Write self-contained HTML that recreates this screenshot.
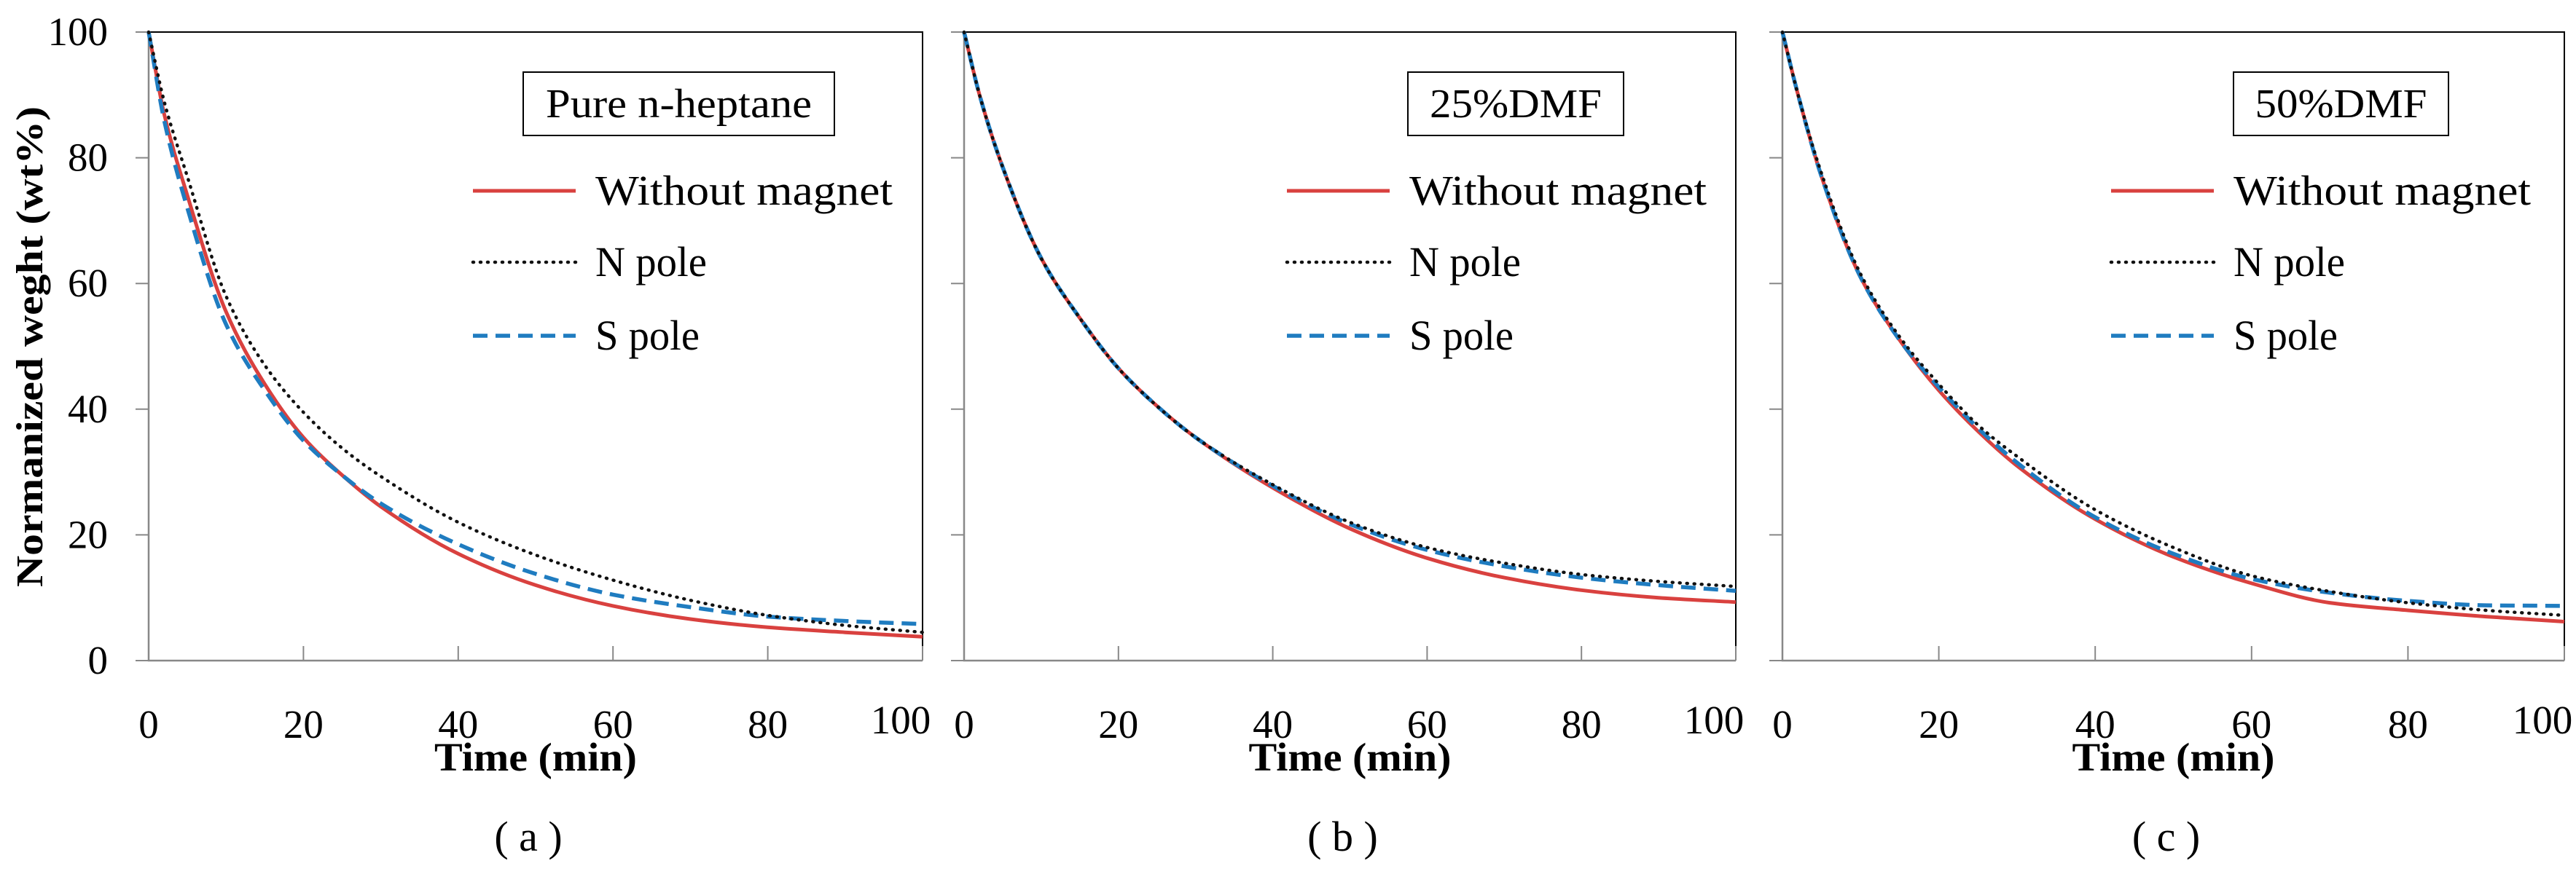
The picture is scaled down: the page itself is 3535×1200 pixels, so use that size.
<!DOCTYPE html>
<html><head><meta charset="utf-8"><style>
html,body{margin:0;padding:0;background:#fff}
svg{display:block}
svg text{font-family:"Liberation Serif","Times New Roman",serif;fill:#000}
</style></head><body>
<svg id="fig" width="3535" height="1200" viewBox="0 0 3535 1200" font-family="Liberation Serif, serif">
<text font-family="Liberation Serif, serif" transform="translate(58,476) rotate(-90)" text-anchor="middle" font-size="52" font-weight="bold" textLength="660" lengthAdjust="spacingAndGlyphs">Normanized  weght (wt%)</text>
</svg>
<script>
const xTicks=[0,20,40,60,80,100];
const yTicks=[0,20,40,60,80,100];
const timeA=[0,2,5,10,15,20,25,30,40,50,60,70,80,90,100];
const redA=[100,87,74,55.5,44,35.5,29.5,24.5,17,12,8.7,6.6,5.3,4.5,3.8];
const blackA=[100,89,77,58,47,39.5,33.8,29.3,22,16.8,12.8,9.6,7.2,5.6,4.5];
const blueA=[100,86,72,53.5,43,35,29.5,25,18.5,13.8,10.5,8.5,7,6.3,5.8];
const redB=[100,90,78.5,64,54.5,46.5,40.5,35.5,27.5,21,16.3,13.2,11.2,10,9.3];
const blackB=[100,90,78.5,64,54.5,46.5,40.5,35.5,28,22,18,15.5,13.7,12.6,11.8];
const blueB=[100,90,78.5,64,54.5,46.5,40.5,35.5,27.8,21.7,17.6,15,13.2,12,11.1];
const redC=[100,90,77,61,51,43,36.5,31,22.5,16.5,12.3,9.2,8,7,6.2];
const blackC=[100,90,77.5,61.5,51.5,44,37.5,32.5,24,18,13.5,11,9.2,8,7.2];
const blueC=[100,90,77,61,51,43.5,37,31.5,22.8,17,13,10.8,9.5,8.8,8.7];
const panels=[
 {id:'a',x0:204,x1:1266,red:redA,black:blackA,blue:blueA,title:'Pure n-heptane',tw:365,box:[718,99,427,87],leg:649},
 {id:'b',x0:1323,x1:2382,red:redB,black:blackB,blue:blueB,title:'25%DMF',tw:236,box:[1932,99,296,87],leg:1766},
 {id:'c',x0:2446,x1:3519,red:redC,black:blackC,blue:blueC,title:'50%DMF',tw:236,box:[3065,99,295,87],leg:2897}
];
const NS='http://www.w3.org/2000/svg';
const svg=document.getElementById('fig');
const Y0=907,Y1=44;
const FF='Liberation Serif, serif';
function mk(tag,attrs,parent,txt){const e=document.createElementNS(NS,tag);for(const k in attrs)e.setAttribute(k,attrs[k]);if(tag==='text')e.setAttribute('font-family',FF);if(txt!==undefined)e.textContent=txt;(parent||svg).appendChild(e);return e;}
function path(pts){
 const n=pts.length,dx=[],m=[],t=new Array(n);
 for(let i=0;i<n-1;i++){dx[i]=pts[i+1][0]-pts[i][0];m[i]=(pts[i+1][1]-pts[i][1])/dx[i];}
 t[0]=m[0];t[n-1]=m[n-2];
 for(let i=1;i<n-1;i++){if(m[i-1]*m[i]<=0)t[i]=0;else{const w1=2*dx[i]+dx[i-1],w2=dx[i]+2*dx[i-1];t[i]=(w1+w2)/(w1/m[i-1]+w2/m[i]);}}
 let d='M'+pts[0][0].toFixed(1)+','+pts[0][1].toFixed(1);
 for(let i=0;i<n-1;i++){const h=dx[i]/3;d+=' C'+(pts[i][0]+h).toFixed(1)+','+(pts[i][1]+t[i]*h).toFixed(1)+' '+(pts[i+1][0]-h).toFixed(1)+','+(pts[i+1][1]-t[i+1]*h).toFixed(1)+' '+pts[i+1][0].toFixed(1)+','+pts[i+1][1].toFixed(1);}
 return d;}
const styles={red:{stroke:'#d9413f','stroke-width':5,fill:'none'},black:{stroke:'#111','stroke-width':4.5,fill:'none','stroke-dasharray':'1 9','stroke-linecap':'round'},blue:{stroke:'#1f7cc0','stroke-width':5.5,fill:'none','stroke-dasharray':'20 11'}};
const names={red:'Without  magnet',black:'N pole',blue:'S pole'};
const nameW={red:408,black:153,blue:143};
panels.forEach(p=>{
 const g=mk('g',{});
 
 
 const sx=v=>p.x0+(p.x1-p.x0)*v/100, sy=v=>Y0+(Y1-Y0)*v/100;
 const fr=mk('path',{d:`M${p.x0},${Y1} H${p.x1} V${Y0}`,stroke:'#000','stroke-width':2,fill:'none'},g);
 
 
 const ax=mk('path',{d:`M${p.x0},${Y1} V${Y0} H${p.x1}`,stroke:'#888','stroke-width':2.5,fill:'none'},g);
 
 
 yTicks.forEach(v=>{
  const t=mk('line',{x1:p.x0-18,x2:p.x0,y1:sy(v),y2:sy(v),stroke:'#888','stroke-width':2},g);
  
  
  if(p.id==='a'){const l=mk('text',{x:p.x0-56,y:sy(v)+18,'text-anchor':'end','font-size':55},g,v);
   
   }
 });
 xTicks.forEach((v,i)=>{
  const t=mk('line',{x1:sx(v),x2:sx(v),y1:Y0,y2:Y0-20,stroke:'#888','stroke-width':2},g);
  
  
  const last=i===xTicks.length-1;
  const l=mk('text',{x:last?sx(v)-30:sx(v),y:last?1007:1013,'text-anchor':'middle','font-size':55},g,v);
  
  
 });
 ['red','blue','black'].forEach(s=>{
  const pts=timeA.map((t,i)=>[sx(t),sy(p[s][i])]);
  const ln=mk('path',Object.assign({d:path(pts)},styles[s]),g);
  
  
 });
 const xt=mk('text',{x:(p.x0+p.x1)/2,y:1058,'text-anchor':'middle','font-size':55,'font-weight':'bold',textLength:278,lengthAdjust:'spacingAndGlyphs'},g,'Time (min)');
 
 
 const cap=mk('text',{x:(p.x0+p.x1)/2-10,y:1168,'text-anchor':'middle','font-size':58},g,'( '+p.id+' )');
 
 
 const b=p.box;
 const bx=mk('rect',{x:b[0],y:b[1],width:b[2],height:b[3],fill:'#fff',stroke:'#000','stroke-width':2},g);
 
 
 const bt=mk('text',{x:b[0]+b[2]/2,y:b[1]+62,'text-anchor':'middle','font-size':56,textLength:p.tw,lengthAdjust:'spacingAndGlyphs'},g,p.title);
 
 
 [['red',262],['black',360],['blue',461]].forEach(([s,y])=>{
  const ls=mk('line',Object.assign({x1:p.leg,x2:p.leg+141,y1:y,y2:y},styles[s]),g);
  
  
  const lt=mk('text',{x:p.leg+168,y:y+19,'font-size':58,textLength:nameW[s],lengthAdjust:'spacingAndGlyphs'},g,names[s]);
  
  
 });
});
</script>
</body></html>
